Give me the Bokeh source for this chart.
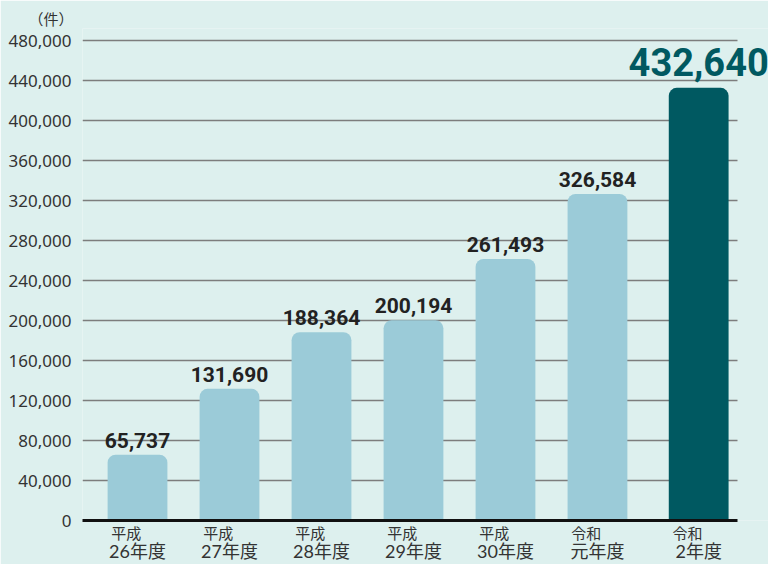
from bokeh.plotting import figure
from bokeh.models import (ColumnDataSource, LabelSet, NumeralTickFormatter,
                          FixedTicker, Range1d, LinearAxis)
from bokeh.core.properties import value
from bokeh.embed import file_html
from bokeh.resources import INLINE

# data
era = ["平成", "平成", "平成", "平成", "平成", "令和", "令和"]
year = ["26年度", "27年度", "28年度", "29年度", "30年度", "元年度", "2年度"]
counts = [65737, 131690, 188364, 200194, 261493, 326584, 432640]
highlight = [False, False, False, False, False, False, True]
y_ticks = [0, 40000, 80000, 120000, 160000, 200000, 240000, 280000, 320000, 360000, 400000, 440000, 480000]

BG = "#ddf0ee"
LIGHT = "#9bcbd8"
DARK = "#005961"
NUM_FONT = "Roboto"
JP_FONT = "Noto Sans CJK JP"
CAT_FONT = "Lato, 'Noto Sans CJK JP'"

X_START, X_END, GRID_END = -0.598, 6.859, 6.522
BAR_W = 0.65

xs = [i + (0.1 if h else 0.0) for i, h in enumerate(highlight)]
colors = [DARK if h else LIGHT for h in highlight]
labels = [f"{v:,}" for v in counts]

src = ColumnDataSource(dict(x=xs, v=counts, c=colors))
norm_idx = [i for i, h in enumerate(highlight) if not h]
hi_idx = [i for i, h in enumerate(highlight) if h]
src_lbl = ColumnDataSource(dict(x=[xs[i] for i in norm_idx], v=[counts[i] for i in norm_idx],
                                t=[labels[i] for i in norm_idx]))
src_hi = ColumnDataSource(dict(x=[xs[i] for i in hi_idx], v=[counts[i] for i in hi_idx],
                               t=[labels[i] for i in hi_idx]))

p = figure(width=768, height=564, output_backend="svg", toolbar_location=None,
           x_range=Range1d(X_START, X_END), y_range=Range1d(0, 492000),
           min_border_left=82, min_border_right=0, min_border_top=28, min_border_bottom=43)
p.background_fill_color = BG
p.border_fill_color = BG
p.outline_line_color = None

p.title.text = "（件）"
p.title.align = "left"
p.title.offset = -54
p.title.standoff = 0
p.title.text_font = JP_FONT
p.title.text_font_size = "15px"
p.title.text_font_style = "normal"
p.title.text_color = "#333333"

p.xgrid.grid_line_color = None
p.ygrid.ticker = FixedTicker(ticks=y_ticks)
p.ygrid.grid_line_color = "#7d7d7d"
p.ygrid.grid_line_width = 1.5
p.ygrid.cross_bounds = (X_START, GRID_END)

p.vbar(x="x", top="v", width=BAR_W, source=src, fill_color="c", line_color=None,
       border_radius=(8, 8, 0, 0))

# x axes: era line and year line
ax1 = p.xaxis[0]
ax1.ticker = FixedTicker(ticks=xs)
ax1.bounds = (X_START, GRID_END)
ax1.major_label_overrides = {t: e + "\u3000\u2002" for t, e in zip(xs, era)}
ax1.major_tick_line_color = None
ax1.minor_tick_line_color = None
ax1.major_tick_out = 0
ax1.major_tick_in = 0
ax1.axis_line_color = "#111111"
ax1.axis_line_width = 3
ax1.major_label_text_font = CAT_FONT
ax1.major_label_text_font_size = "15px"
ax1.major_label_text_color = "#333333"
ax1.major_label_standoff = 3

ax2 = LinearAxis(ticker=FixedTicker(ticks=xs), bounds=(X_START, GRID_END))
ax2.major_label_overrides = {t: y for t, y in zip(xs, year)}
ax2.axis_line_color = None
ax2.major_tick_line_color = None
ax2.minor_tick_line_color = None
ax2.major_tick_out = 0
ax2.major_tick_in = 0
ax2.major_label_text_font = CAT_FONT
ax2.major_label_text_font_size = "18px"
ax2.major_label_text_color = "#333333"
ax2.major_label_standoff = -5
p.add_layout(ax2, "below")

p.yaxis.ticker = FixedTicker(ticks=y_ticks)
p.yaxis.formatter = NumeralTickFormatter(format="0,0")
p.yaxis.axis_line_color = None
p.yaxis.major_tick_line_color = None
p.yaxis.minor_tick_line_color = None
p.yaxis.major_tick_out = 0
p.yaxis.major_tick_in = 0
p.yaxis.major_label_text_font = "Noto Sans"
p.yaxis.major_label_text_font_size = "17px"
p.yaxis.major_label_text_color = "#333333"
p.yaxis.major_label_standoff = 11

p.add_layout(LabelSet(x="x", y="v", text="t", source=src_lbl, y_offset=7,
                      text_align="center", text_baseline="alphabetic",
                      text_font=value(NUM_FONT), text_font_style="bold",
                      text_font_size="21px", text_color="#222222"))

p.add_layout(LabelSet(x="x", y="v", text="t", source=src_hi, y_offset=12,
                      text_align="center", text_baseline="alphabetic",
                      text_font=value(NUM_FONT), text_font_style="bold",
                      text_font_size="38px", text_color=DARK))

open("out.html", "w").write(file_html(p, INLINE))
